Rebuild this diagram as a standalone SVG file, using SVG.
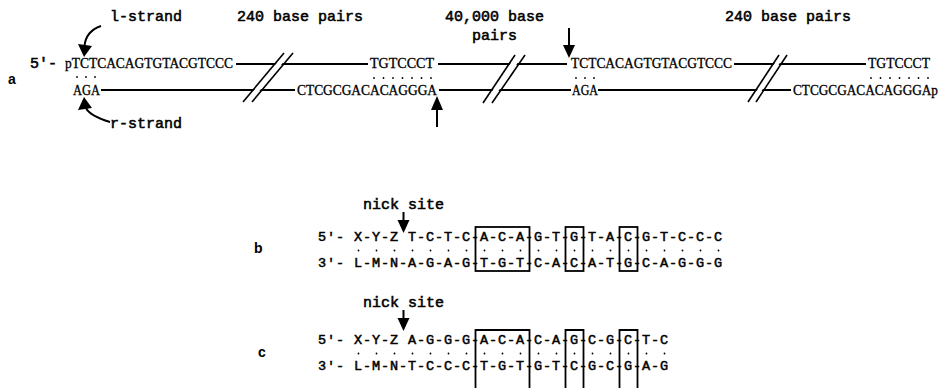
<svg xmlns="http://www.w3.org/2000/svg" width="942" height="388" viewBox="0 0 942 388">
<style>
.mono{font-family:"Liberation Mono","Courier New",monospace;font-size:15px;fill:#000;stroke:#000;stroke-width:0.55}
.row{font-family:"Liberation Mono","Courier New",monospace;font-size:13.5px;letter-spacing:0.9px;fill:#000;stroke:#000;stroke-width:0.5}
.seq{font-family:"Liberation Serif","Times New Roman",serif;font-size:13.6px;fill:#000;stroke:#000;stroke-width:0.3}
.lbl{font-family:"Liberation Sans",Arial,sans-serif;font-size:14px;font-weight:bold;fill:#000}
.ln{stroke:#000;stroke-width:2;fill:none}
.sl{stroke:#000;stroke-width:1.6;fill:none}
.dots{stroke:#000;stroke-width:1.8;stroke-linecap:round;fill:none}
.box{stroke:#000;stroke-width:1.8;fill:none}
.ah{fill:#000;stroke:none}
</style>
<rect width="942" height="388" fill="#fff"/>

<g id="part-a">
  <text class="lbl" x="8" y="84">a</text>
  <g id="labels-a">
    <text class="mono" x="110" y="21">l-strand</text>
    <text class="mono" x="237" y="21">240 base pairs</text>
    <text class="mono" x="445" y="21">40,000 base</text>
    <text class="mono" x="472" y="40">pairs</text>
    <text class="mono" x="725" y="21">240 base pairs</text>
    <text class="mono" x="110" y="128">r-strand</text>
  </g>
  <g id="seq-a">
    <text class="mono" x="30" y="68">5'-</text>
    <text class="seq" x="65" y="68" textLength="168" lengthAdjust="spacingAndGlyphs">pTCTCACAGTGTACGTCCC</text>
    <text class="seq" x="73" y="95" textLength="27" lengthAdjust="spacingAndGlyphs">AGA</text>
    <text class="seq" x="370" y="68" textLength="64" lengthAdjust="spacingAndGlyphs">TGTCCCT</text>
    <text class="seq" x="297" y="95" textLength="140" lengthAdjust="spacingAndGlyphs">CTCGCGACACAGGGA</text>
    <text class="seq" x="571" y="68" textLength="161" lengthAdjust="spacingAndGlyphs">TCTCACAGTGTACGTCCC</text>
    <text class="seq" x="572" y="95" textLength="26" lengthAdjust="spacingAndGlyphs">AGA</text>
    <text class="seq" x="868" y="68" textLength="62" lengthAdjust="spacingAndGlyphs">TGTCCCT</text>
    <text class="seq" x="793" y="95" textLength="145" lengthAdjust="spacingAndGlyphs">CTCGCGACACAGGGAp</text>
  </g>
  <g id="pairing-dots-a">
    <line class="dots" x1="77" y1="77" x2="95.5" y2="77" stroke-dasharray="0 9"/>
    <line class="dots" x1="374" y1="78" x2="431.5" y2="78" stroke-dasharray="0 9.5"/>
    <line class="dots" x1="576" y1="78" x2="594.5" y2="78" stroke-dasharray="0 9"/>
    <line class="dots" x1="871" y1="78" x2="928.5" y2="78" stroke-dasharray="0 9.5"/>
  </g>
</g>

<g id="connectors">
  <line class="ln" x1="236" y1="64" x2="368" y2="64"/>
  <line class="ln" x1="438" y1="64" x2="567" y2="64"/>
  <line class="ln" x1="734" y1="64" x2="866" y2="64"/>
  <line class="ln" x1="101" y1="90" x2="295" y2="90"/>
  <line class="ln" x1="439" y1="90" x2="571" y2="90"/>
  <line class="ln" x1="598" y1="90" x2="791" y2="90"/>
  <polygon points="245,101 285,53 291,53 251,101" fill="#fff"/>
  <line class="sl" x1="243" y1="102" x2="284" y2="53"/>
  <line class="sl" x1="252" y1="102" x2="293" y2="53"/>
  <polygon points="485,102 516,55 523,55 491,102" fill="#fff"/>
  <line class="sl" x1="483" y1="103" x2="515" y2="55"/>
  <line class="sl" x1="492" y1="103" x2="525" y2="55"/>
  <polygon points="750,101 780,55 785,55 755,101" fill="#fff"/>
  <line class="sl" x1="748" y1="102" x2="779" y2="55"/>
  <line class="sl" x1="756" y1="102" x2="787" y2="55"/>
  <path class="ln" d="M101,26 Q86,31 84.5,46" stroke-width="3"/>
  <path class="ah" d="M78,44 L92,46 L84,57 Z"/>
  <path class="ln" d="M110,122 Q90,116 86,108" stroke-width="3"/>
  <path class="ah" d="M78,110 L92,108 L84,97 Z"/>
  <line class="ln" x1="569" y1="28" x2="569" y2="47" stroke-width="2.2"/>
  <path class="ah" d="M563,45 L575,45 L569,58 Z"/>
  <line class="ln" x1="437" y1="108" x2="437" y2="127" stroke-width="2.2"/>
  <path class="ah" d="M431,110 L443,110 L437,96 Z"/>
  <line class="ln" x1="403.5" y1="212" x2="403.5" y2="222" stroke-width="2.2"/>
  <path class="ah" d="M397.5,220 L409.5,220 L403.5,233 Z"/>
  <line class="ln" x1="403.5" y1="310" x2="403.5" y2="320" stroke-width="2.2"/>
  <path class="ah" d="M397.5,318 L409.5,318 L403.5,331 Z"/>
</g>

<g id="part-b">
  <text class="lbl" x="254" y="253">b</text>
  <text class="mono" x="363" y="209">nick site</text>
  <text class="row" x="318" y="241" xml:space="preserve">5'- X-Y-Z T-C-T-C-A-C-A-G-T-G-T-A-C-G-T-C-C-C</text>
  <line class="dots" x1="358.5" y1="250.5" x2="718.7" y2="250.5" stroke-dasharray="0 18" stroke-width="1.6"/>
  <text class="row" x="318" y="267">3'- L-M-N-A-G-A-G-T-G-T-C-A-C-A-T-G-C-A-G-G-G</text>
  <rect class="box" x="475.5" y="227" width="54" height="44"/>
  <rect class="box" x="565.5" y="227" width="18" height="44"/>
  <rect class="box" x="619.5" y="227" width="18" height="44"/>
</g>

<g id="part-c">
  <text class="lbl" x="258" y="357">c</text>
  <text class="mono" x="363" y="307">nick site</text>
  <text class="row" x="318" y="344" xml:space="preserve">5'- X-Y-Z A-G-G-G-A-C-A-C-A-G-C-G-C-T-C</text>
  <line class="dots" x1="358.5" y1="353.5" x2="664.7" y2="353.5" stroke-dasharray="0 18" stroke-width="1.6"/>
  <text class="row" x="318" y="370">3'- L-M-N-T-C-C-C-T-G-T-G-T-C-G-C-G-A-G</text>
  <path class="box" d="M475.5,392 V330 H529.5 V392 M565.5,392 V330 H583.5 V392 M619.5,392 V330 H637.5 V392"/>
</g>
</svg>
